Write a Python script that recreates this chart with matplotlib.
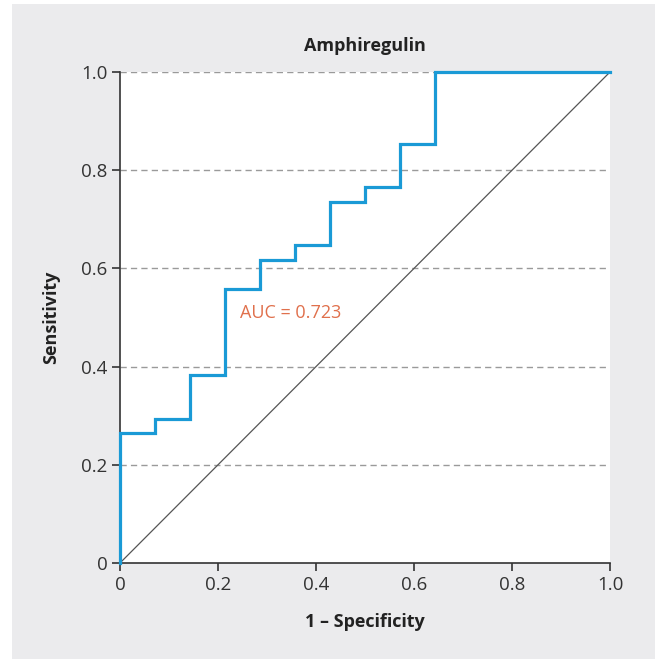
"""ROC curve for amphiregulin with the chance diagonal."""

import matplotlib.pyplot as plt
from matplotlib.patches import Rectangle

# ROC vertices (1 - specificity, sensitivity)
fpr = [0.0, 0.0, 0.071, 0.071, 0.143, 0.143, 0.214, 0.214, 0.286, 0.286,
       0.357, 0.357, 0.429, 0.429, 0.5, 0.5, 0.571, 0.571, 0.643, 0.643, 1.0]
tpr = [0.0, 0.265, 0.265, 0.294, 0.294, 0.382, 0.382, 0.559, 0.559, 0.618,
       0.618, 0.647, 0.647, 0.735, 0.735, 0.765, 0.765, 0.853, 0.853, 1.0, 1.0]
auc_value = 0.723
ticks = [0.0, 0.2, 0.4, 0.6, 0.8, 1.0]
tick_labels = ["0", "0.2", "0.4", "0.6", "0.8", "1.0"]

plt.rcParams["font.family"] = ["Open Sans", "DejaVu Sans"]

fig = plt.figure(figsize=(6.57, 6.59), dpi=100, facecolor="white")
panel = Rectangle((12 / 657, -0.01), 643 / 657, 1.01 - 4 / 659,
                  transform=fig.transFigure, facecolor="#ebebed",
                  edgecolor="none", zorder=-10)
fig.add_artist(panel)
ax = fig.add_axes([120 / 657, 1 - 563 / 659, 490 / 657, 491 / 659])
ax.set_zorder(1)
ax.set_facecolor("white")

for y in ticks[1:]:
    ax.axhline(y, color="#9a9a9a", linestyle=(0, (4.5, 3)), linewidth=1.0, zorder=1)
ax.plot([0, 1], [0, 1], color="#555555", linewidth=0.9, zorder=2)
ax.plot(fpr, tpr, color="#1a9ad6", linewidth=2.3, clip_on=False, zorder=3,
        solid_joinstyle="miter")
ax.text(0.245, 0.509, f"AUC = {auc_value}", color="#e0704c", fontsize=13,
        ha="left", va="center")

ax.set_xlim(0, 1)
ax.set_ylim(0, 1)
ax.set_xticks(ticks)
ax.set_xticklabels(tick_labels)
ax.set_yticks(ticks)
ax.set_yticklabels(tick_labels)
for side in ("top", "right"):
    ax.spines[side].set_visible(False)
for side in ("left", "bottom"):
    ax.spines[side].set_color("#333333")
    ax.spines[side].set_linewidth(1.2)
ax.tick_params(direction="out", length=6, width=1.2, color="#333333",
               labelsize=13.5, labelcolor="#333333", pad=3)

ax.set_title("Amphiregulin", fontsize=13, fontweight="bold", color="#222222", pad=15)
ax.set_xlabel("1 – Specificity", fontsize=13, fontweight="bold", color="#222222", labelpad=14)
ax.set_ylabel("Sensitivity", fontsize=13, fontweight="bold", color="#222222", labelpad=15)

fig.savefig("out.png", dpi=100, facecolor=fig.get_facecolor())
